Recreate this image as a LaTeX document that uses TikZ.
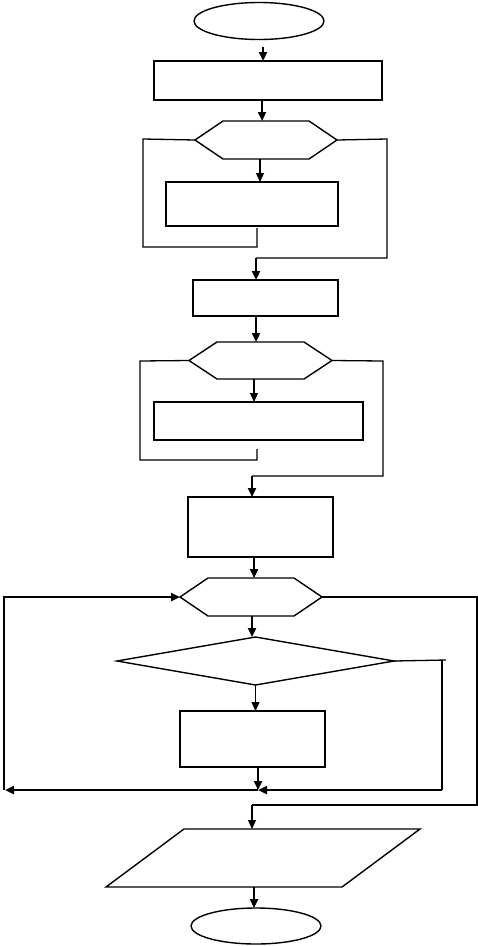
\documentclass[tikz,border=0pt]{standalone}
\usetikzlibrary{shapes.geometric,arrows.meta}
\tikzset{
  shp/.style={draw=black,line width=1.4pt,inner sep=0pt,outer sep=0pt},
  term/.style={shp,ellipse},
  proc/.style={shp,rectangle},
  hidden/.style={rectangle,draw=none,inner sep=0pt,outer sep=0pt},
  thin line/.style={line width=1.3pt},
  thick line/.style={line width=2.6pt},
  tip/.style={-{Triangle[length=9pt,width=8pt]}},
  arrthin/.style={thin line,tip},
  arrthick/.style={thick line,tip},
}
\newcommand{\hexout}[2]{\draw[line width=1.4pt] (#1.west) -- ([xshift=#2]#1.north west) -- ([xshift=-#2]#1.north east) -- (#1.east) -- ([xshift=-#2]#1.south east) -- ([xshift=#2]#1.south west) -- cycle;}
\begin{document}
\begin{tikzpicture}[x=1pt,y=-1pt]
\useasboundingbox (0,0) rectangle (478,946);
% nodes
\node[term,minimum width=130pt,minimum height=37pt] (start) at (259,21) {};
\node[proc,minimum width=228pt,minimum height=39pt] (r1) at (268,80.5) {};
\node[hidden,minimum width=142pt,minimum height=38pt] (h1) at (266,140) {};
\node[proc,minimum width=172pt,minimum height=44pt] (r2) at (252,204) {};
\node[proc,minimum width=145pt,minimum height=36pt] (r3) at (265.5,298) {};
\node[hidden,minimum width=143pt,minimum height=37pt] (h2) at (260.5,360.5) {};
\node[proc,minimum width=209pt,minimum height=38pt] (r4) at (258.5,421) {};
\node[proc,minimum width=145pt,minimum height=60pt] (r5) at (260.5,527) {};
\node[hidden,minimum width=142pt,minimum height=38pt] (h3) at (251,597) {};
\node[hidden,minimum width=277pt,minimum height=48pt] (d1) at (255.5,661) {};
\node[proc,minimum width=145pt,minimum height=56pt] (r6) at (252.5,739) {};
\node[hidden,minimum width=314pt,minimum height=58pt] (p1) at (263,858) {};
\node[term,minimum width=130pt,minimum height=36pt] (end) at (256,926) {};
% outlines of special shapes
\hexout{h1}{28pt}
\hexout{h2}{28pt}
\hexout{h3}{28pt}
\draw[line width=1.4pt] (d1.west) -- (d1.north) -- (d1.east) -- (d1.south) -- cycle;
\draw[line width=1.4pt] (p1.south west) -- ([xshift=78pt]p1.north west) -- (p1.north east) -- ([xshift=-78pt]p1.south east) -- cycle;
% helper coordinates
\coordinate (a1) at (143,139);
\coordinate (a2) at (143,247);
\coordinate (a3) at (257,247);
\coordinate (a4) at (257,228);
\coordinate (b1) at (387,139);
\coordinate (b2) at (387,258);
\coordinate (b3) at (256,258);
\coordinate (c1) at (140,361);
\coordinate (c2) at (140,460);
\coordinate (c3) at (257,460);
\coordinate (c4) at (257,449);
\coordinate (e1) at (383,361);
\coordinate (e2) at (383,476);
\coordinate (e3) at (252,476);
\coordinate (j) at (258,790);
\coordinate (f1) at (442,660);
\coordinate (f2) at (442,790);
\coordinate (g1) at (5,790);
\coordinate (g2) at (4,790);
\coordinate (g3) at (4,597);
\coordinate (k1) at (477,597);
\coordinate (k2) at (477,805);
\coordinate (k3) at (252,805);
% connectors
\draw[arrthick] ([xshift=4pt,yshift=-7pt]start.south) -- ([xshift=-5pt]r1.north);
\draw[arrthick] ([xshift=-6pt]r1.south) -- ([xshift=-4pt]h1.north);
\draw[arrthin] ([xshift=-6pt]h1.south) -- ([xshift=8pt]r2.north);
\draw[thin line] (h1.west) -- (a1) -- (a2) -- (a3) -- (a4);
\draw[thin line] (h1.east) -- (b1) -- (b2) -- (b3);
\draw[arrthick] (b3) -- (r3.north -| b3);
\draw[arrthick] ([xshift=-9.5pt]r3.south) -- (h2.north -| {(256,0)});
\draw[arrthin] ([xshift=-6.5pt]h2.south) -- (r4.north -| {(254,0)});
\draw[thin line] (h2.west) -- (c1) -- (c2) -- (c3) -- (c4);
\draw[thin line] (h2.east) -- (e1) -- (e2) -- (e3);
\draw[arrthick] (e3) -- (r5.north -| e3);
\draw[arrthick] ([xshift=-6.5pt]r5.south) -- (h3.north -| {(254,0)});
\draw[arrthick] ([xshift=1pt]h3.south) -- (d1.north -| {(252,0)});
\draw[arrthin] (d1.south) -- (r6.north -| d1.south);
\draw[arrthick] ([xshift=5.5pt]r6.south) -- (j);
\draw[thin line] (d1.east) -- (f1 -| {(446,0)});
\draw[thin line] (f1) -- (f2);
\draw[arrthick] (f2) -- (j);
\draw[arrthick] (j) -- (g1);
\draw[arrthick] (g2) -- (g3) -- (h3.west);
\draw[thin line] (h3.east) -- (k1) -- (k2) -- (k3);
\draw[arrthin] (k3) -- (p1.north -| k3);
\draw[arrthick] (p1.south -| {(254,0)}) -- (end.north -| {(254,0)});
\end{tikzpicture}
\end{document}
